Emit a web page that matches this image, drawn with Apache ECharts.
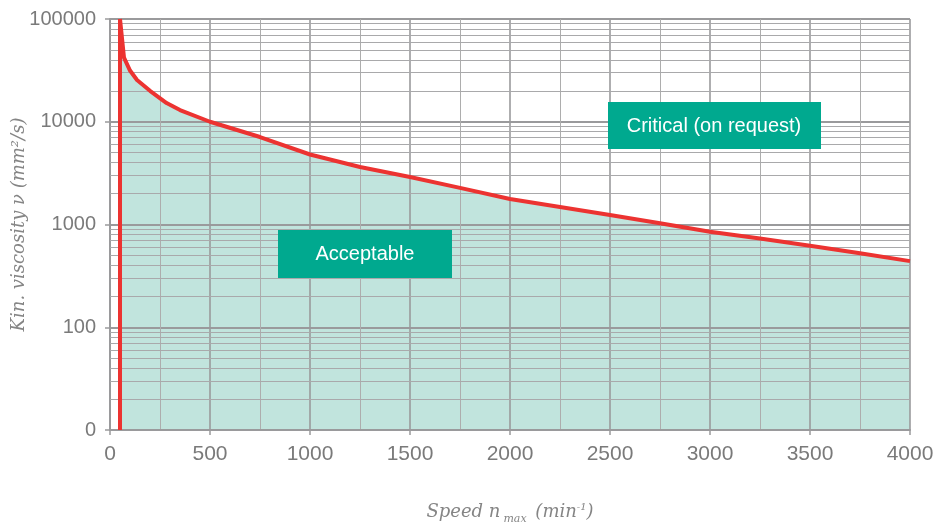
<!DOCTYPE html>
<html>
<head>
<meta charset="utf-8">
<script src="https://cdn.jsdelivr.net/npm/echarts@6/dist/echarts.min.js"></script>
<style>html,body{margin:0;padding:0;background:#fff}#c{width:935px;height:526px}</style>
</head>
<body>
<div id="c"></div>
<script>
// speed (min^-1) vs kinematic viscosity (mm^2/s) limit curve
const curveSpeed = [50, 70, 100, 135, 200, 283, 350, 500, 750, 1000, 1250, 1500, 1750, 2000, 2250, 2500, 2750, 3000, 3250, 3500, 3750, 4000];
const curveVisc  = [100000, 42000, 31500, 25500, 20000, 15200, 13000, 10000, 7100, 4800, 3630, 2900, 2270, 1770, 1480, 1240, 1030, 850, 730, 620, 525, 440];
const limitSpeed = [50, 50];
const limitVisc  = [10, 100000];
const xTicks = [0, 500, 1000, 1500, 2000, 2500, 3000, 3500, 4000];
const yTicks = [10, 100, 1000, 10000, 100000];
const yTickLabels = ['0', '100', '1000', '10000', '100000'];
const yMinorGrid = [20,30,40,50,60,70,80,90, 200,300,400,500,600,700,800,900,
                    2000,3000,4000,5000,6000,7000,8000,9000, 20000,30000,40000,50000,60000,70000,80000,90000];
const labelAcceptable = 'Acceptable';
const labelCritical = 'Critical (on request)';

const curveData = curveSpeed.map((s, i) => [s, curveVisc[i]]);
const limitData = limitSpeed.map((s, i) => [s, limitVisc[i]]);

const chart = echarts.init(document.getElementById('c'));
const gray = '#9a9a9c';
const serif = 'DejaVu Serif';
chart.setOption({
  animation: false,
  grid: { left: 110, right: 25, top: 19, bottom: 96, containLabel: false, outerBoundsMode: 'none' },
  xAxis: {
    type: 'value', min: xTicks[0], max: xTicks[xTicks.length - 1], interval: 500, z: 3,
    axisLine: { show: true, lineStyle: { color: gray, width: 2 } },
    axisTick: { show: true, length: 5, lineStyle: { color: gray, width: 1.5 } },
    axisLabel: { color: '#7a7a7a', fontSize: 21, fontFamily: 'Liberation Sans', margin: 14, formatter: v => String(v) },
    splitLine: { show: true, lineStyle: { color: gray, width: 1.6 } },
    minorTick: { show: false, splitNumber: 2 },
    minorSplitLine: { show: true, lineStyle: { color: '#adadad', width: 1 } },
    name: '{a|Speed n}{sub|max}{a| (min}{sup|-1}{a|)}',
    nameLocation: 'middle', nameGap: 70, nameMoveOverlap: false,
    nameTextStyle: {
      rich: {
        a: { fontFamily: serif, fontStyle: 'italic', fontSize: 18, color: '#858585' },
        sub: { fontFamily: serif, fontStyle: 'italic', fontSize: 11, color: '#858585', padding: [14, 3, 0, 3] },
        sup: { fontFamily: serif, fontStyle: 'italic', fontSize: 10, color: '#858585', padding: [0, 0, 10, 0] }
      }
    }
  },
  yAxis: {
    type: 'log', logBase: 10, min: yTicks[0], max: yTicks[yTicks.length - 1], z: 3,
    axisLine: { show: true, lineStyle: { color: gray, width: 2 } },
    axisTick: { show: true, length: 5, lineStyle: { color: gray, width: 1.5 } },
    axisLabel: {
      color: '#7a7a7a', fontSize: 20, fontFamily: 'Liberation Sans', margin: 14,
      formatter: v => { const i = yTicks.indexOf(Math.round(v)); return i >= 0 ? yTickLabels[i] : ''; }
    },
    splitLine: { show: true, lineStyle: { color: gray, width: 2 } },
    name: 'Kin. viscosity ν (mm²/s)',
    nameLocation: 'middle', nameGap: 82, nameRotate: 90, nameMoveOverlap: false,
    nameTextStyle: { fontFamily: serif, fontStyle: 'italic', fontSize: 18, color: '#858585' }
  },
  series: [
    {
      type: 'line', data: curveData, z: 1, symbol: 'none', silent: true,
      lineStyle: { width: 0 },
      areaStyle: { color: '#c1e4dd', opacity: 1, origin: 'start' }
    },
    {
      type: 'line', data: [], z: 4, symbol: 'none', silent: true,
      markLine: {
        silent: true, symbol: 'none', z: 4, label: { show: false },
        lineStyle: { color: '#a9a9ab', width: 1, type: 'solid' },
        data: yMinorGrid.map(v => ({ yAxis: v }))
      }
    },
    {
      type: 'line', data: curveData, z: 10, symbol: 'none', silent: true,
      lineStyle: { color: '#ec3331', width: 4, join: 'round' }
    },
    {
      type: 'line', data: limitData, z: 10, symbol: 'none', silent: true,
      lineStyle: { color: '#ec3331', width: 4 }
    }
  ],
  graphic: [
    { type: 'rect', z: 20, shape: { x: 278, y: 230, width: 174, height: 48 }, style: { fill: '#00a98f' } },
    { type: 'text', z: 21, x: 365, y: 254, style: { text: labelAcceptable, fill: '#fff', font: '20px "Liberation Sans"', align: 'center', verticalAlign: 'middle' } },
    { type: 'rect', z: 20, shape: { x: 608, y: 102, width: 213, height: 47 }, style: { fill: '#00a98f' } },
    { type: 'text', z: 21, x: 714, y: 126, style: { text: labelCritical, fill: '#fff', font: '20px "Liberation Sans"', align: 'center', verticalAlign: 'middle' } }
  ]
});
</script>
</body>
</html>
